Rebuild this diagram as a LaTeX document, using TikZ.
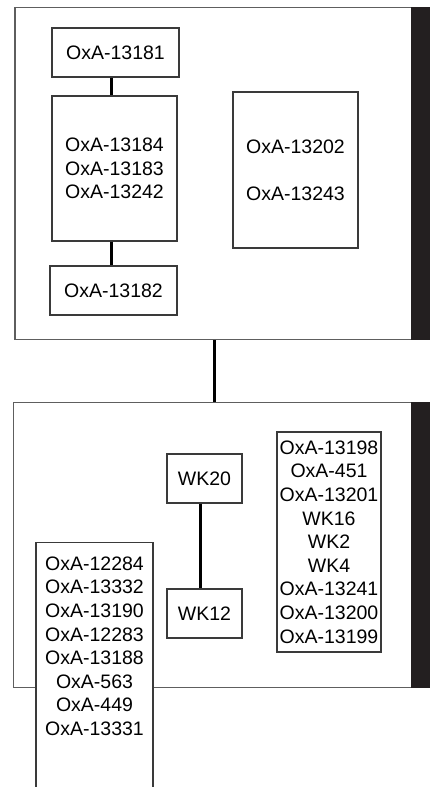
\documentclass[tikz,border=0pt]{standalone}
\usepackage{fontspec}
\setmainfont{Liberation Sans}
\usepackage{tikz}
\usetikzlibrary{positioning}
\definecolor{boxEdge}{HTML}{3A3A3A}
\definecolor{phaseEdge}{HTML}{5E5E5E}
\definecolor{phaseBar}{HTML}{231F20}

\begin{document}
\begin{tikzpicture}[x=1pt,y=-1pt,
  every node/.style={font=\fontsize{19.5}{23.6}\selectfont,inner sep=0pt,align=center},
  phase/.style={draw=phaseEdge,line width=1.2pt,fill=white},
  sample/.style={draw=boxEdge,line width=1.3pt,fill=white},
  link/.style={line width=3pt,line cap=butt}]
  \useasboundingbox (0,0) rectangle (430,787);
  % upper phase
  \node[phase,minimum width=415,minimum height=332] (upper) at (222.5,173.5) {};
  \fill[phaseBar] ([xshift=-20pt]upper.north east) rectangle (upper.south east);
  \node[sample,minimum width=127,minimum height=49] (s13181) at (115.5,52.5) {OxA-13181};
  \node[sample,minimum width=125,minimum height=145] (s13184) at (114.5,168.5) {OxA-13184\\OxA-13183\\OxA-13242};
  \node[sample,minimum width=127,minimum height=49] (s13182) at (113.5,290.5) {OxA-13182};
  \node[sample,minimum width=125,minimum height=156] (s13202) at (295.5,170) {OxA-13202\\[23.6pt]OxA-13243};
  \coordinate (stemA) at (111,0);
  \draw[link] (s13181.south -| stemA) -- (s13184.north -| stemA);
  \draw[link] (s13184.south -| stemA) -- (s13182.north -| stemA);
  % lower phase
  \node[phase,minimum width=416.7,minimum height=285] (lower) at (221.7,545.2) {};
  \fill[phaseBar] ([xshift=-20pt]lower.north east) rectangle (lower.south east);
  \coordinate (trunk) at (214,0);
  \draw[link] (upper.south -| trunk) -- (lower.north -| trunk);
  \node[sample,minimum width=75,minimum height=49] (wk20) at (204.5,478.5) {WK20};
  \node[sample,minimum width=75,minimum height=49] (wk12) at (204.5,613.5) {WK12};
  \coordinate (stemB) at (200,0);
  \draw[link] (wk20.south -| stemB) -- (wk12.north -| stemB);
  \node[sample,minimum width=104,minimum height=220] (s13198) at (329,542)
    {OxA-13198\\OxA-451\\OxA-13201\\WK16\\WK2\\WK4\\OxA-13241\\OxA-13200\\OxA-13199};
  \node[sample,minimum width=117,minimum height=270,anchor=north] (leftcol) at (94.5,542) {};
  \node[below=14.5pt of leftcol.north] (s12284)
    {OxA-12284\\OxA-13332\\OxA-13190\\OxA-12283\\OxA-13188\\OxA-563\\OxA-449\\OxA-13331};
\end{tikzpicture}
\end{document}
